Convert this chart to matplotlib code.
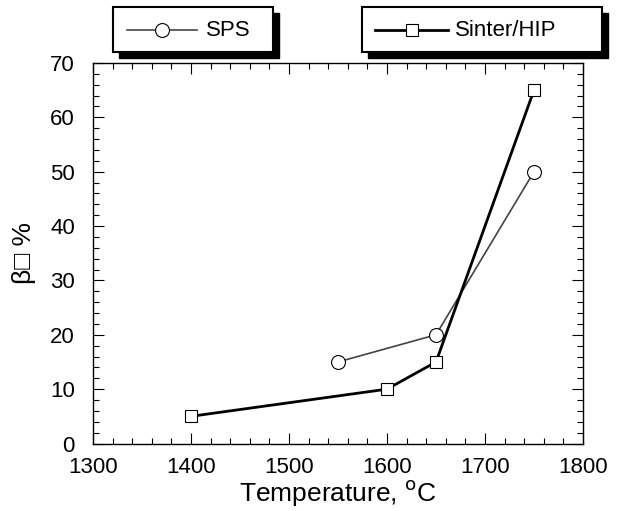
import matplotlib
matplotlib.use("Agg")
import matplotlib.pyplot as plt
from matplotlib.lines import Line2D
from matplotlib.patches import Rectangle
from matplotlib.ticker import MultipleLocator

sps_temp = [1550, 1650, 1750]
sps_beta = [15, 20, 50]
hip_temp = [1400, 1600, 1650, 1750]
hip_beta = [5, 10, 15, 65]

plt.rcParams["font.family"] = ["Liberation Sans", "DejaVu Sans"]

W, H = 636, 511
fig = plt.figure(figsize=(W / 100, H / 100), dpi=100)
ax = fig.add_axes([93 / W, 1 - 443.5 / H, 490 / W, 380.5 / H])

sps_style = dict(color="#444444", lw=1.2, marker="o", ms=10,
                 mfc="white", mec="black", mew=0.8)
hip_style = dict(color="black", lw=2.0, marker="s", ms=9,
                 mfc="white", mec="black", mew=0.8)
ax.plot(sps_temp, sps_beta, **sps_style)
ax.plot(hip_temp, hip_beta, **hip_style)

ax.set_xlim(1300, 1800)
ax.set_ylim(0, 70)
ax.xaxis.set_major_locator(MultipleLocator(100))
ax.xaxis.set_minor_locator(MultipleLocator(20))
ax.yaxis.set_major_locator(MultipleLocator(10))
ax.yaxis.set_minor_locator(MultipleLocator(2))
ax.tick_params(which="both", direction="in", top=True, right=True, width=0.8)
ax.tick_params(which="major", length=8, labelsize=16)
ax.tick_params(axis="x", which="major", pad=10)
ax.tick_params(axis="y", which="major", pad=13)
ax.tick_params(which="minor", length=4)
for s in ax.spines.values():
    s.set_linewidth(1.0)

ax.set_xlabel("Temperature, $^{\\mathrm{o}}$C", fontsize=19, labelpad=0)
ax.set_ylabel("β\u25a1 %", fontsize=19, labelpad=10)


# legend boxes with drop shadow, placed above the axes (pixel layout)
def legend_box(x0, x1, line_x0, line_x1, text_x, label, style):
    y_top, y_bot = 7, 52
    sh = 6
    fig.patches.append(Rectangle(((x0 + sh) / W, 1 - (y_bot + sh) / H),
                                 (x1 - x0) / W, (y_bot - y_top) / H,
                                 transform=fig.transFigure, color="black", zorder=1))
    fig.patches.append(Rectangle((x0 / W, 1 - y_bot / H),
                                 (x1 - x0) / W, (y_bot - y_top) / H,
                                 transform=fig.transFigure, facecolor="white",
                                 edgecolor="black", lw=1.5, zorder=2))
    yc = 1 - 30 / H
    kw = dict(style)
    kw.pop("marker")
    fig.lines.append(Line2D([line_x0 / W, line_x1 / W], [yc, yc],
                            transform=fig.transFigure, zorder=3, **kw))
    fig.lines.append(Line2D([(line_x0 + line_x1) / 2 / W], [yc],
                            transform=fig.transFigure, zorder=4, ls="none",
                            marker=style["marker"], ms=style["ms"],
                            mfc="white", mec="black", mew=0.8))
    fig.text(text_x / W, yc, label, fontsize=16, va="center", ha="left", zorder=5)


legend_box(113, 273, 127, 197, 206, "SPS", sps_style)
legend_box(362, 602, 375, 448, 455, "Sinter/HIP", hip_style)

fig.savefig("out.png", dpi=100)
